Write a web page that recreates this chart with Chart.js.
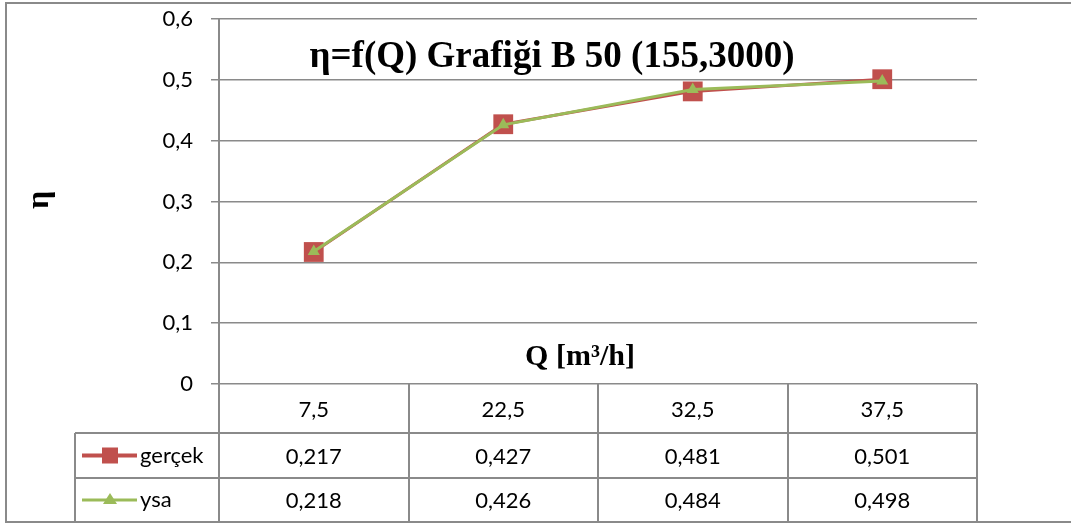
<!DOCTYPE html>
<html>
<head>
<meta charset="utf-8">
<script src="https://cdn.jsdelivr.net/npm/chart.js@4.4.0/dist/chart.umd.min.js"></script>
<style>
  html, body { margin: 0; padding: 0; background: #fff; }
  canvas { display: block; }
</style>
</head>
<body>
<canvas id="chart" width="1071" height="525"></canvas>
<script>
// data
const categories = ['7,5', '22,5', '32,5', '37,5'];
const gercek = [0.217, 0.427, 0.481, 0.501];
const ysa = [0.218, 0.426, 0.484, 0.498];
const seriesNames = ['gerçek', 'ysa'];
const chartTitle = 'η=f(Q) Grafiği B 50 (155,3000)';
const xTitle = 'Q [m³/h]';
const yTitle = 'η';

const RED = '#C0504D';
const GREEN = '#9BBB59';
const LINE = '#8a8a8a';
const SANS = 'Lato, "Open Sans", sans-serif';
const LABEL_FONT = '22px ' + SANS;

const fmt = (v, d) => v.toFixed(d).replace('.', ',');

// Data table + titles drawn under / over the plot
const tablePlugin = {
  id: 'dataTable',
  afterDraw(chart) {
    const { ctx, chartArea: a, scales: { x } } = chart;
    const colW = (a.right - a.left) / categories.length;
    const r1 = a.bottom + 49, r2 = r1 + 45, r3 = r2 + 44;
    const legLeft = 75;

    ctx.save();
    ctx.strokeStyle = LINE;
    ctx.lineWidth = 2;
    ctx.beginPath();
    // outer border
    ctx.rect(6, 3, 1100, r3 - 3);
    // column lines
    for (let i = 0; i <= categories.length; i++) {
      const cx = Math.round(a.left + i * colW);
      ctx.moveTo(cx, a.bottom);
      ctx.lineTo(cx, r3);
    }
    ctx.moveTo(legLeft, r1); ctx.lineTo(legLeft, r3);
    ctx.moveTo(legLeft, r1); ctx.lineTo(a.right, r1);
    ctx.moveTo(legLeft, r2); ctx.lineTo(a.right, r2);
    ctx.stroke();

    // cell text
    ctx.fillStyle = '#000';
    ctx.font = LABEL_FONT;
    ctx.textAlign = 'center';
    ctx.textBaseline = 'middle';
    categories.forEach((c, i) => {
      const cx = x.getPixelForValue(i);
      ctx.fillText(c, cx, (a.bottom + r1) / 2 + 1);
      ctx.fillText(fmt(gercek[i], 3), cx, (r1 + r2) / 2 + 1);
      ctx.fillText(fmt(ysa[i], 3), cx, (r2 + r3) / 2 + 1);
    });

    // legend keys
    const ky1 = (r1 + r2) / 2, ky2 = (r2 + r3) / 2;
    ctx.lineWidth = 4;
    ctx.strokeStyle = RED;
    ctx.beginPath(); ctx.moveTo(82, ky1); ctx.lineTo(137, ky1); ctx.stroke();
    ctx.fillStyle = RED;
    ctx.fillRect(102, ky1 - 8, 16, 16);
    ctx.lineWidth = 3;
    ctx.strokeStyle = GREEN;
    ctx.beginPath(); ctx.moveTo(82, ky2); ctx.lineTo(137, ky2); ctx.stroke();
    ctx.fillStyle = GREEN;
    ctx.beginPath();
    ctx.moveTo(110, ky2 - 7); ctx.lineTo(117, ky2 + 4); ctx.lineTo(103, ky2 + 4);
    ctx.closePath(); ctx.fill();
    ctx.fillStyle = '#000';
    ctx.textAlign = 'left';
    ctx.fillText(seriesNames[0], 140, ky1);
    ctx.fillText(seriesNames[1], 140, ky2);

    // titles
    ctx.textAlign = 'center';
    ctx.font = 'bold 37px "Liberation Serif", serif';
    ctx.fillText(chartTitle, 552, 57);
    ctx.font = 'bold 30px "Liberation Serif", serif';
    ctx.fillText(xTitle, 580, 357);
    ctx.save();
    ctx.translate(40, 200);
    ctx.rotate(-Math.PI / 2);
    ctx.font = 'bold 32px "Liberation Serif", serif';
    ctx.fillText(yTitle, 0, 0);
    ctx.restore();
    ctx.restore();
  }
};

new Chart(document.getElementById('chart'), {
  type: 'line',
  data: {
    labels: categories,
    datasets: [
      {
        label: seriesNames[0], data: gercek, order: 1,
        borderColor: RED, backgroundColor: RED, borderWidth: 3,
        pointStyle: 'rect', pointRadius: 14, pointBorderWidth: 0, tension: 0
      },
      {
        label: seriesNames[1], data: ysa, order: 0,
        borderColor: GREEN, backgroundColor: GREEN, borderWidth: 3,
        pointStyle: 'triangle', pointRadius: 7, pointBorderWidth: 0, tension: 0
      }
    ]
  },
  options: {
    responsive: false,
    animation: false,
    devicePixelRatio: 1,
    layout: { padding: { left: 0, right: 94, top: 19, bottom: 141 } },
    plugins: { legend: { display: false }, tooltip: { enabled: false } },
    scales: {
      x: { display: false, offset: true },
      y: {
        min: 0, max: 0.6,
        afterFit: (s) => { s.width = 219; s.paddingTop = 0; s.paddingBottom = 0; },
        ticks: {
          stepSize: 0.1, padding: 18, color: '#000',
          font: { family: SANS, size: 22 },
          callback: (v) => v === 0 ? '0' : fmt(v, 1)
        },
        grid: { color: LINE, lineWidth: 1.5, tickLength: 8 },
        border: { color: LINE, width: 2 }
      }
    }
  },
  plugins: [tablePlugin]
});
</script>
</body>
</html>
